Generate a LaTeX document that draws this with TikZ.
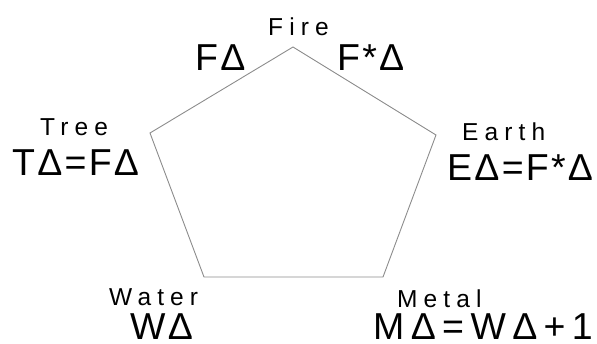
\documentclass[tikz,border=0pt]{standalone}
\usepackage{fontspec}
\newfontfamily\smallfam[LetterSpace=25]{Liberation Sans}
\newfontfamily\bigfam[LetterSpace=6]{Liberation Sans}
\newfontfamily\widefam[LetterSpace=17]{Liberation Sans}
\begin{document}
\begin{tikzpicture}[x=1pt,y=-1pt,
  edge/.style={draw=black!45, line width=0.9pt, line join=miter},
  small/.style={inner sep=0pt, anchor=base west, font=\smallfam\fontsize{24.5}{26}\selectfont},
  big/.style={inner sep=0pt, anchor=base west, font=\bigfam\fontsize{37.5}{40}\selectfont},
  bigwide/.style={big, font=\widefam\fontsize{37.5}{40}\selectfont}]
\useasboundingbox (0,0) rectangle (597,343);
\coordinate (fire) at (293,47);
\coordinate (earth) at (436,135);
\coordinate (metal) at (383,277);
\coordinate (water) at (204,277);
\coordinate (tree) at (150,133);
\draw[edge] (fire) -- (earth) -- (metal) -- (water) -- (tree) -- cycle;
\node[small] (firelbl) at (268,35) {Fire};
\node[big] (fd) at (195,70) {FΔ};
\node[big] (fsd) at (337,70) {F*Δ};
\node[small] (treelbl) at (40,135) {Tree};
\node[big] (td) at (12,175) {TΔ=FΔ};
\node[small] (waterlbl) at (109,305) {Water};
\node[big] (wd) at (130,339) {WΔ};
\node[small] (earthlbl) at (462,140) {Earth};
\node[big] (ed) at (447,180) {EΔ=F*Δ};
\node[small] (metallbl) at (397,307) {Metal};
\node[bigwide] (md) at (373,339) {MΔ=WΔ+1};
\end{tikzpicture}
\end{document}
